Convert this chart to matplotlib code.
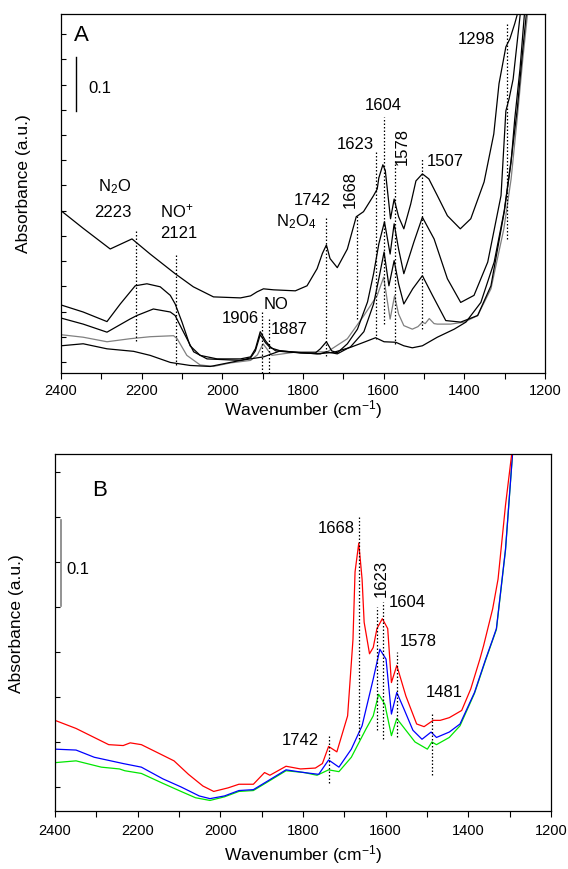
import matplotlib
matplotlib.use('Agg')
import matplotlib.pyplot as plt
from matplotlib.ticker import MultipleLocator

plt.rcParams['font.family'] = ['Liberation Sans', 'DejaVu Sans']
plt.rcParams['mathtext.fontset'] = 'custom'
plt.rcParams['mathtext.rm'] = 'Liberation Sans'
plt.rcParams['mathtext.it'] = 'Liberation Sans:italic'
plt.rcParams['mathtext.default'] = 'regular'

# ---- panel A spectra (wavenumber, absorbance) ----
a1_wn = [2400, 2345, 2278, 2224, 2179, 2117, 2072, 2022, 1955, 1930, 1914, 1898, 1873, 1819, 1790,
         1765, 1752, 1742, 1733, 1715, 1690, 1668, 1650, 1625, 1616, 1612, 1602, 1596, 1583, 1574,
         1563, 1550, 1533, 1520, 1504, 1488, 1467, 1442, 1410, 1384, 1351, 1327, 1314, 1297, 1287,
         1275, 1265]
a1_ab = [0.300, 0.265, 0.224, 0.244, 0.214, 0.175, 0.149, 0.129, 0.127, 0.131, 0.139, 0.145, 0.143, 0.141, 0.151,
         0.185, 0.215, 0.232, 0.205, 0.187, 0.224, 0.288, 0.298, 0.330, 0.343, 0.365, 0.391, 0.380, 0.284, 0.323,
         0.288, 0.264, 0.313, 0.359, 0.373, 0.363, 0.330, 0.290, 0.264, 0.284, 0.357, 0.452, 0.552, 0.625, 0.641,
         0.671, 0.700]

a2_wn = [2400, 2345, 2286, 2253, 2216, 2187, 2154, 2129, 2117, 2100, 2080, 2055, 2013, 1955, 1930,
         1918, 1906, 1893, 1881, 1868, 1843, 1806, 1769, 1757, 1742, 1729, 1715, 1690, 1665, 1640,
         1625, 1612, 1598, 1584, 1574, 1563, 1550, 1525, 1504, 1475, 1442, 1409, 1376, 1342, 1309,
         1297, 1289, 1279, 1260]
a2_ab = [0.113, 0.099, 0.080, 0.115, 0.151, 0.155, 0.149, 0.132, 0.115, 0.079, 0.032, 0.013, 0.006, 0.006, 0.010,
         0.026, 0.060, 0.042, 0.030, 0.022, 0.020, 0.018, 0.018, 0.026, 0.040, 0.022, 0.018, 0.036, 0.065, 0.119,
         0.175, 0.234, 0.278, 0.214, 0.274, 0.224, 0.175, 0.238, 0.287, 0.244, 0.165, 0.118, 0.132, 0.198, 0.330,
         0.498, 0.522, 0.561, 0.700]

a3_wn = [2400, 2345, 2286, 2229, 2212, 2171, 2129, 2117, 2100, 2071, 2038, 1955, 1930, 1918, 1906,
         1893, 1881, 1856, 1806, 1757, 1742, 1715, 1682, 1649, 1625, 1612, 1599, 1587, 1574, 1563,
         1550, 1528, 1504, 1479, 1446, 1409, 1367, 1334, 1301, 1284, 1275, 1262, 1250]
a3_ab = [0.087, 0.075, 0.059, 0.085, 0.092, 0.105, 0.099, 0.092, 0.065, 0.020, 0.006, 0.003, 0.008, 0.022, 0.054,
         0.038, 0.028, 0.022, 0.018, 0.016, 0.020, 0.016, 0.030, 0.060, 0.115, 0.165, 0.218, 0.151, 0.201, 0.155,
         0.115, 0.145, 0.171, 0.132, 0.082, 0.079, 0.092, 0.151, 0.298, 0.397, 0.482, 0.581, 0.700]

gray_wn = [2400, 2345, 2286, 2229, 2179, 2121, 2112, 2088, 2055, 2022, 1980, 1930, 1913, 1899, 1886,
           1877, 1814, 1740, 1690, 1649, 1616, 1600, 1584, 1573, 1563, 1550, 1529, 1515, 1504, 1497,
           1487, 1475, 1467, 1434, 1400, 1367, 1334, 1302, 1284, 1269, 1255, 1242]
gray_ab = [0.054, 0.049, 0.040, 0.046, 0.050, 0.052, 0.046, 0.013, -0.006, -0.009, -0.002, 0.003, 0.014, 0.036, 0.022,
           0.013, 0.020, 0.020, 0.046, 0.092, 0.132, 0.168, 0.085, 0.131, 0.095, 0.072, 0.065, 0.070, 0.079, 0.076,
           0.086, 0.076, 0.075, 0.075, 0.079, 0.092, 0.145, 0.264, 0.363, 0.482, 0.601, 0.700]

a5_wn = [2400, 2345, 2286, 2220, 2179, 2129, 2080, 2030, 1955, 1898, 1856, 1814, 1765, 1724, 1682,
         1649, 1620, 1599, 1570, 1550, 1529, 1504, 1467, 1425, 1396, 1359, 1326, 1301, 1284, 1269,
         1255, 1245]
a5_ab = [0.032, 0.036, 0.026, 0.021, 0.013, -0.001, -0.007, -0.009, 0.003, 0.010, 0.022, 0.019, 0.016, 0.019, 0.029,
         0.039, 0.048, 0.040, 0.039, 0.032, 0.028, 0.032, 0.049, 0.065, 0.079, 0.118, 0.198, 0.300, 0.400, 0.500,
         0.620, 0.700]

# dotted peak markers in A: (wavenumber, bottom, top)
a_marks = [(2214, 0.042, 0.264), (2114, -0.007, 0.213), (1901, -0.022, 0.099), (1885, -0.022, 0.089),
           (1742, 0.012, 0.290), (1665, 0.085, 0.294), (1620, 0.046, 0.419), (1599, 0.075, 0.485),
           (1572, 0.036, 0.399), (1504, 0.065, 0.403), (1295, 0.244, 0.671)]
# labels in A: (text, wavenumber, absorbance, rotation)
a_labels = [('1298', 1369, 0.641, 0), ('1604', 1600, 0.510, 0), ('1623', 1670, 0.433, 0),
            ('1578', 1553, 0.429, 90), ('1507', 1447, 0.399, 0), ('1668', 1684, 0.343, 90),
            ('1742', 1777, 0.323, 0), ('N$_2$O$_4$', 1816, 0.280, 0), ('N$_2$O', 2266, 0.349, 0),
            ('2223', 2271, 0.298, 0), ('NO$^{+}$', 2112, 0.300, 0), ('2121', 2108, 0.257, 0),
            ('1906', 1955, 0.089, 0), ('NO', 1866, 0.116, 0), ('1887', 1834, 0.066, 0)]

# ---- panel B spectra ----
red_wn = [2400, 2349, 2270, 2235, 2218, 2191, 2147, 2112, 2077, 2042, 2016, 1981, 1955, 1920, 1893,
          1880, 1841, 1806, 1770, 1753, 1738, 1718, 1692, 1679, 1674, 1665, 1657, 1652, 1639, 1630,
          1621, 1608, 1595, 1586, 1573, 1551, 1525, 1507, 1485, 1468, 1446, 1416, 1394, 1372, 1363,
          1341, 1328, 1310, 1295]
red_ab = [0.074, 0.065, 0.047, 0.046, 0.049, 0.047, 0.037, 0.029, 0.014, 0.001, -0.005, -0.001, 0.003, 0.003, 0.016,
          0.013, 0.023, 0.020, 0.021, 0.026, 0.045, 0.039, 0.079, 0.164, 0.239, 0.271, 0.231, 0.183, 0.148, 0.155,
          0.176, 0.187, 0.176, 0.116, 0.135, 0.101, 0.070, 0.067, 0.074, 0.074, 0.077, 0.085, 0.109, 0.142, 0.157,
          0.198, 0.231, 0.313, 0.370]

blue_wn = [2400, 2349, 2305, 2235, 2191, 2139, 2095, 2051, 2025, 1990, 1955, 1920, 1884, 1841, 1797,
           1762, 1738, 1713, 1683, 1657, 1630, 1614, 1599, 1586, 1573, 1556, 1534, 1512, 1490, 1477,
           1446, 1420, 1385, 1358, 1341, 1332, 1310, 1293]
blue_ab = [0.042, 0.041, 0.033, 0.026, 0.022, 0.009, 0.000, -0.010, -0.013, -0.010, -0.004, -0.003, 0.007, 0.019, 0.016,
           0.014, 0.030, 0.022, 0.042, 0.068, 0.120, 0.153, 0.142, 0.081, 0.105, 0.087, 0.063, 0.053, 0.061, 0.055,
           0.061, 0.070, 0.105, 0.142, 0.164, 0.176, 0.264, 0.370]

green_wn = [2400, 2349, 2288, 2244, 2231, 2191, 2139, 2095, 2060, 2025, 1990, 1955, 1920, 1884, 1841,
            1797, 1766, 1738, 1713, 1683, 1648, 1630, 1617, 1602, 1586, 1573, 1551, 1529, 1499, 1488,
            1477, 1446, 1420, 1385, 1358, 1332, 1310, 1293]
green_ab = [0.027, 0.029, 0.022, 0.020, 0.018, 0.015, 0.004, -0.005, -0.012, -0.015, -0.011, -0.005, -0.004, 0.006, 0.018,
            0.016, 0.013, 0.019, 0.017, 0.033, 0.064, 0.079, 0.103, 0.092, 0.057, 0.076, 0.063, 0.050, 0.042, 0.050,
            0.047, 0.055, 0.068, 0.104, 0.141, 0.175, 0.263, 0.370]

b_marks = [(1665, 0.053, 0.301), (1621, 0.063, 0.200), (1606, 0.053, 0.206), (1573, 0.056, 0.150),
           (1488, 0.013, 0.083), (1738, 0.004, 0.057)]
b_labels = [('1668', 1720, 0.288, 0), ('1623', 1611, 0.233, 90), ('1604', 1547, 0.206, 0),
            ('1578', 1521, 0.163, 0), ('1481', 1459, 0.106, 0), ('1742', 1806, 0.053, 0)]

fig = plt.figure(figsize=(5.68, 8.7), dpi=100)
axA = fig.add_axes([0.1074, 0.5701, 0.8521, 0.4126])
axB = fig.add_axes([0.0968, 0.0667, 0.8732, 0.4103])


def style(ax, ylim, pad):
    ax.set_xlim(2400, 1200)
    ax.set_ylim(*ylim)
    ax.xaxis.set_major_locator(MultipleLocator(200))
    ax.xaxis.set_minor_locator(MultipleLocator(100))
    ax.yaxis.set_major_locator(MultipleLocator(0.05))
    ax.tick_params(axis='x', which='both', direction='out', length=4.5, width=0.8, labelsize=10.5, pad=pad)
    ax.tick_params(axis='y', which='both', direction='in', length=3.5, width=0.8, labelleft=False)
    for s in ax.spines.values():
        s.set_linewidth(0.9)


dot = (0, (1.2, 1.6))

# panel A
style(axA, (-0.022, 0.690), 2.5)
axA.plot(gray_wn, gray_ab, color='#808080', lw=0.9)
for wn, ab in [(a1_wn, a1_ab), (a2_wn, a2_ab), (a3_wn, a3_ab), (a5_wn, a5_ab)]:
    axA.plot(wn, ab, color='k', lw=0.9)
for w, y0, y1 in a_marks:
    axA.plot([w, w], [y0, y1], color='k', lw=0.9, ls=dot)
for s, w, y, r in a_labels:
    axA.text(w, y, s, ha='center', va='center', fontsize=12, rotation=r)
axA.plot([2363, 2363], [0.498, 0.605], color='k', lw=1)
axA.text(2303, 0.545, '0.1', ha='center', va='center', fontsize=12)
axA.text(0.043, 0.943, 'A', transform=axA.transAxes, ha='center', va='center', fontsize=16)

# panel B
style(axB, (-0.0267, 0.370), 4.5)
axB.plot(green_wn, green_ab, color='#00e600', lw=0.9)
axB.plot(blue_wn, blue_ab, color='#0000ff', lw=0.9)
axB.plot(red_wn, red_ab, color='#ff0000', lw=0.9)
for w, y0, y1 in b_marks:
    axB.plot([w, w], [y0, y1], color='k', lw=0.9, ls=dot)
for s, w, y, r in b_labels:
    axB.text(w, y, s, ha='center', va='center', fontsize=12, rotation=r)
axB.plot([2386, 2386], [0.201, 0.297], color='#808080', lw=1.2)
axB.text(2344, 0.243, '0.1', ha='center', va='center', fontsize=12)
axB.text(2292, 0.331, 'B', ha='center', va='center', fontsize=16)

# axis titles
fig.text(303 / 568, 1 - 410 / 870, 'Wavenumber (cm$^{-1}$)', ha='center', va='center', fontsize=12.5)
fig.text(303 / 568, 1 - 855 / 870, 'Wavenumber (cm$^{-1}$)', ha='center', va='center', fontsize=12.5)
fig.text(23.5 / 568, 1 - 184 / 870, 'Absorbance (a.u.)', ha='center', va='center', fontsize=12.5, rotation=90)
fig.text(17 / 568, 1 - 624 / 870, 'Absorbance (a.u.)', ha='center', va='center', fontsize=12.5, rotation=90)

fig.savefig('out.png', dpi=100)
